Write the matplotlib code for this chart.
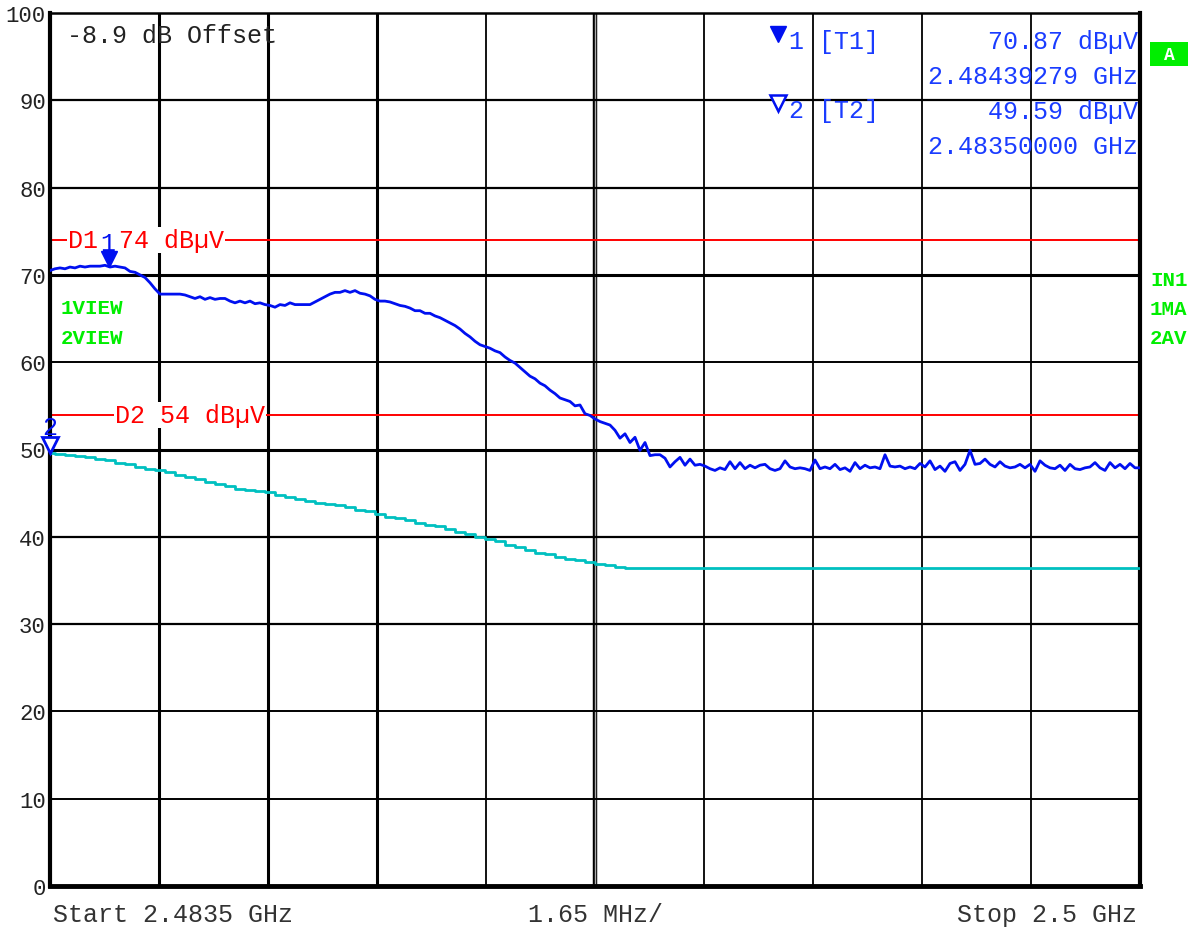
"""
Spectrum analyzer screenshot: band edge 2.4835 - 2.5 GHz, max hold / average traces
"""
import numpy as np
import matplotlib.pyplot as plt
from matplotlib.patches import Rectangle
from matplotlib.transforms import offset_copy

W, H = 1198, 928
MONO = ['Liberation Mono', 'DejaVu Sans Mono']

# sweep settings (GHz)
f_start = 2.4835
f_stop = 2.5
n_div = 10

# trace 1 (max hold), read every ~5 px across the screen
trace1 = [
    70.5, 70.7, 70.8, 70.7, 70.9, 70.8, 71.0, 70.9, 71.0, 71.0, 71.0, 71.1, 70.9, 71.0, 70.9, 70.8,
    70.4, 70.3, 70.0, 69.7, 69.1, 68.4, 67.8, 67.8, 67.8, 67.8, 67.8, 67.7, 67.5, 67.3, 67.5, 67.2,
    67.4, 67.2, 67.3, 67.3, 67.0, 66.8, 67.0, 66.8, 67.0, 66.7, 66.8, 66.6, 66.5, 66.3, 66.6, 66.5,
    66.8, 66.6, 66.6, 66.6, 66.6, 66.9, 67.2, 67.5, 67.8, 68.0, 68.0, 68.2, 68.0, 68.2, 67.9, 67.8,
    67.6, 67.2, 67.0, 67.0, 66.9, 66.7, 66.5, 66.4, 66.2, 65.9, 65.9, 65.6, 65.6, 65.3, 65.1, 64.8,
    64.5, 64.2, 63.8, 63.3, 62.9, 62.4, 62.0, 61.8, 61.6, 61.3, 61.1, 60.6, 60.2, 59.9, 59.4, 58.9,
    58.4, 58.1, 57.6, 57.3, 56.8, 56.4, 55.9, 55.7, 55.5, 55.0, 55.1, 54.1, 53.9, 53.5, 53.2, 53.0,
    52.8, 52.2, 51.3, 51.8, 50.8, 51.4, 49.9, 50.8, 49.3, 49.4, 49.4, 49.0, 48.0, 48.6, 49.1, 48.2,
    48.9, 48.2, 48.3, 48.1, 47.8, 47.6, 47.9, 47.7, 48.6, 47.8, 48.5, 47.8, 48.2, 47.9, 48.2, 48.3,
    47.8, 47.6, 47.8, 48.7, 48.0, 47.8, 47.9, 47.8, 47.6, 48.8, 47.8, 48.0, 47.8, 48.3, 47.7, 47.9,
    47.5, 48.5, 47.8, 48.2, 47.9, 48.0, 47.8, 49.4, 48.1, 48.0, 48.1, 47.8, 48.0, 47.8, 48.4, 48.0,
    48.7, 47.7, 48.1, 47.5, 48.4, 48.6, 47.6, 48.3, 49.9, 48.3, 48.4, 48.9, 48.3, 48.0, 48.6, 48.1,
    47.9, 48.0, 48.3, 47.9, 48.3, 47.5, 48.7, 48.2, 47.9, 47.8, 48.2, 47.6, 48.3, 47.8, 47.7, 47.9,
    48.0, 48.5, 47.9, 47.6, 48.5, 47.9, 48.3, 47.8, 48.4, 47.9, 47.9,
]

# trace 2 (average), read every ~10 px
trace2 = [
    49.6, 49.5, 49.4, 49.3, 49.1, 48.9, 48.8, 48.5, 48.3, 48.0, 47.8, 47.6, 47.4, 47.1, 46.9, 46.6,
    46.3, 46.1, 45.8, 45.5, 45.4, 45.2, 45.1, 44.8, 44.6, 44.3, 44.1, 43.9, 43.7, 43.6, 43.4, 43.1,
    42.9, 42.6, 42.3, 42.1, 41.9, 41.6, 41.4, 41.2, 40.9, 40.6, 40.3, 40.0, 39.7, 39.5, 39.1, 38.8,
    38.5, 38.2, 38.0, 37.7, 37.5, 37.3, 37.1, 36.9, 36.8, 36.5,
    36.4, 36.4, 36.4, 36.4, 36.4, 36.4, 36.4, 36.4, 36.4, 36.4, 36.4, 36.4, 36.4, 36.4, 36.4, 36.4,
    36.4, 36.4, 36.4, 36.4, 36.4, 36.4, 36.4, 36.4, 36.4, 36.4, 36.4, 36.4, 36.4, 36.4, 36.4, 36.4,
    36.4, 36.4, 36.4, 36.4, 36.4, 36.4, 36.4, 36.4, 36.4, 36.4, 36.4, 36.4, 36.4, 36.4, 36.4, 36.4,
    36.4, 36.4, 36.4, 36.4,
]

# display lines and markers
d1_level = 74
d2_level = 54
m1_freq, m1_level = 2.48439279, 70.87
m2_freq, m2_level = 2.48350000, 49.59

y_ticks = [0, 10, 20, 30, 40, 50, 60, 70, 80, 90, 100]


def px(x, y):
    return x / W, 1 - y / H


fig = plt.figure(figsize=(W / 100, H / 100), dpi=100)
fig.patch.set_facecolor('white')
ax = fig.add_axes([50 / W, 1 - 887 / H, 1090 / W, 873 / H])
ax.set_xlim(f_start, f_stop)
ax.set_ylim(0, 100)
ax.set_xticks([])
ax.set_yticks(y_ticks)
ax.set_yticklabels([str(v) for v in y_ticks], family=MONO, fontsize=16, color='#222222')
ax.tick_params(axis='y', length=0, pad=3)

for side, lw in [('left', 3.0), ('bottom', 3.5), ('right', 3.0), ('top', 1.8)]:
    ax.spines[side].set_linewidth(lw)
    ax.spines[side].set_color('black')

# graticule
div = (f_stop - f_start) / n_div
v_widths = [2.2, 2.2, 2.2, 1.3, 3.2, 1.3, 1.3, 1.3, 1.3]
for i, lw in enumerate(v_widths, start=1):
    ax.axvline(f_start + i * div, color='black', lw=lw, zorder=1)
ax.axvline(f_start + 5 * div, color='#aaaaaa', lw=1.0, zorder=1)
h_widths = [1.4, 1.4, 1.6, 1.6, 2.2, 1.4, 2.2, 1.6, 1.6]
for v, lw in zip(y_ticks[1:-1], h_widths):
    ax.axhline(v, color='black', lw=lw, zorder=1)

# display lines
ax.axhline(d1_level, color='#ff0000', lw=1.4, zorder=2)
ax.axhline(d2_level, color='#ff0000', lw=1.4, zorder=2)
white_box = dict(facecolor='white', edgecolor='none', pad=0.5)
fig.text(*px(68, 241), 'D1', family=MONO, fontsize=18, color='#ff0000',
         va='center', ha='left', zorder=5, bbox=white_box)
fig.text(*px(119, 241), '74 dBµV', family=MONO, fontsize=18, color='#ff0000',
         va='center', ha='left', zorder=5, bbox=white_box)
ax.plot([px(98, 0)[0], px(119, 0)[0]], [px(0, 241)[1]] * 2, color='white', lw=16,
        transform=fig.transFigure, clip_on=False, zorder=4.5)
fig.text(*px(115, 416), 'D2 54 dBµV', family=MONO, fontsize=18, color='#ff0000',
         va='center', ha='left', zorder=5, bbox=white_box)

# traces
f1 = np.linspace(f_start, f_stop, len(trace1))
f2 = np.linspace(f_start, f_stop, len(trace2))
ax.plot(f2, trace2, color='#00c0c0', lw=2.0, drawstyle='steps-mid', zorder=3)
ax.plot(f1, trace1, color='#0010f0', lw=2.0, zorder=4)

# markers
up = offset_copy(ax.transData, fig=fig, x=0, y=6, units='points')
ax.plot(m1_freq, m1_level, marker='v', ms=11, color='#0010f0', transform=up,
        clip_on=False, zorder=6)
ax.plot(m2_freq, m2_level, marker='v', ms=11, mfc='white', mec='#0010f0', mew=2,
        transform=up, clip_on=False, zorder=6)
fig.text(*px(108, 244), '1', family=MONO, fontsize=18, color='#0010f0', ha='center',
         va='center', zorder=7)
fig.text(*px(50, 428), '2', family=MONO, fontsize=18, color='#0010f0', ha='center',
         va='center', zorder=7)

# marker readout
fig.text(*px(67, 36), '-8.9 dB Offset', family=MONO, fontsize=18, color='#222222', va='center')
ax.plot(*px(778, 35), marker='v', ms=12, color='#0010f0', transform=fig.transFigure,
        clip_on=False, zorder=6)
ax.plot(*px(778, 104), marker='v', ms=11, mfc='white', mec='#0010f0', mew=1.8,
        transform=fig.transFigure, clip_on=False, zorder=6)
fig.text(*px(789, 42), '1 [T1]', family=MONO, fontsize=18, color='#1a3cff', va='center')
fig.text(*px(789, 111), '2 [T2]', family=MONO, fontsize=18, color='#1a3cff', va='center')
readout = ['70.87 dBµV', '2.48439279 GHz', '49.59 dBµV', '2.48350000 GHz']
for k, line in enumerate(readout):
    fig.text(*px(1138, 42 + k * 35), line, family=MONO, fontsize=18, color='#1a3cff',
             ha='right', va='center')

# side labels
fig.patches.append(Rectangle(px(1150, 67), 38 / W, 24 / H, transform=fig.transFigure,
                             facecolor='#00ee00', edgecolor='none'))
fig.text(*px(1169, 55), 'A', family=MONO, fontsize=13, fontweight='bold', color='white',
         ha='center', va='center')
for k, lab in enumerate(['IN1', '1MA', '2AV']):
    fig.text(*px(1150, 281 + k * 28.5), lab, family=MONO, fontsize=15, fontweight='bold',
             color='#00ee00', va='center')
for k, lab in enumerate(['1VIEW', '2VIEW']):
    fig.text(*px(61, 309 + k * 29), lab, family=MONO, fontsize=15, fontweight='bold',
             color='#00ee00', va='center')

# sweep info
fig.text(*px(53, 915), 'Start 2.4835 GHz', family=MONO, fontsize=18, color='#333333', va='center')
fig.text(*px(596, 915), '1.65 MHz/', family=MONO, fontsize=18, color='#333333',
         ha='center', va='center')
fig.text(*px(1137, 915), 'Stop 2.5 GHz', family=MONO, fontsize=18, color='#333333',
         ha='right', va='center')

plt.savefig('out.png', dpi=100, facecolor='white')
